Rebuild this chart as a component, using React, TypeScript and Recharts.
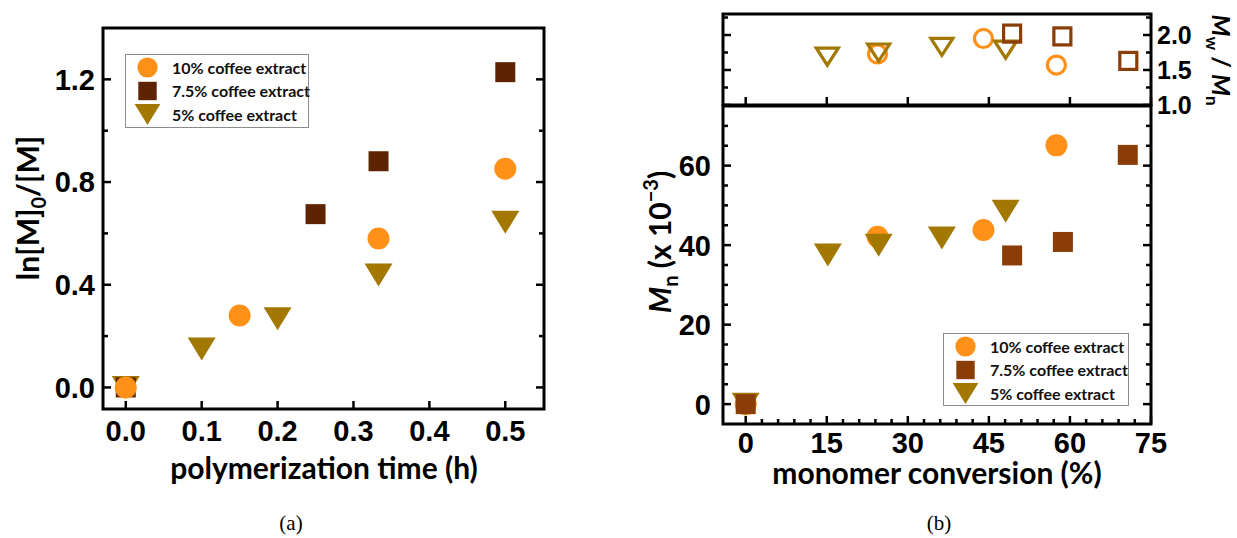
import React from 'react';
import { ScatterChart, Scatter, XAxis, YAxis, ReferenceArea } from 'recharts';

// (a) ln([M]0/[M]) vs polymerization time (h)
const timeA10 = [0, 0.15, 0.333, 0.5];
const lnA10 = [0, 0.28, 0.58, 0.852];
const timeA75 = [0, 0.25, 0.333, 0.5];
const lnA75 = [0, 0.675, 0.881, 1.228];
const timeA5 = [0, 0.1, 0.2, 0.333, 0.5];
const lnA5 = [0, 0.15, 0.268, 0.438, 0.643];

// (b) lower: Mn (x 10^-3) vs monomer conversion (%)
const convB10 = [0, 24.4, 44.0, 57.5];
const mnB10 = [0, 42.1, 43.8, 65.1];
const convB75 = [0, 49.3, 58.7, 70.7];
const mnB75 = [0, 37.4, 40.8, 62.7];
const convB5 = [0, 15.2, 24.6, 36.3, 48.1];
const mnB5 = [0, 37.5, 40.0, 41.8, 48.5];

// (b) upper: Mw/Mn vs monomer conversion (%)
const pdiConv10 = [24.4, 44.0, 57.5];
const pdi10 = [1.73, 1.95, 1.57];
const pdiConv75 = [49.3, 58.6, 70.8];
const pdi75 = [2.02, 1.98, 1.63];
const pdiConv5 = [15.1, 24.6, 36.3, 48.1];
const pdi5 = [1.69, 1.75, 1.83, 1.79];

// axis ticks
const majorsAX = [0, 0.1, 0.2, 0.3, 0.4, 0.5];
const majorsAY = [0, 0.4, 0.8, 1.2];
const ticksAY = [0, 0.2, 0.4, 0.6, 0.8, 1.0, 1.2];
const majorsBX = [0, 15, 30, 45, 60, 75];
const ticksBX = [0, 3, 6, 9, 12, 15, 18, 21, 24, 27, 30, 33, 36, 39, 42, 45, 48, 51, 54, 57, 60, 63, 66, 69, 72, 75];
const majorsBY = [0, 20, 40, 60];
const ticksBY = [0, 5, 10, 15, 20, 25, 30, 35, 40, 45, 50, 55, 60, 65, 70];
const majorsPdi = [1.0, 1.5, 2.0];
const ticksPdi = [1.0, 1.25, 1.5, 1.75, 2.0, 2.25];

const legendLabels = ['10% coffee extract', '7.5% coffee extract', '5% coffee extract'];

const domainAX: [number, number] = [-0.03, 0.551];
const domainAY: [number, number] = [-0.084, 1.4];
const domainBX: [number, number] = [-4.2, 75];
const domainBY: [number, number] = [-5, 75];
const domainPdi: [number, number] = [1.0, 2.3];

const ORANGE = '#FF9119';
const BROWN_DARK = '#5E2300';
const BROWN = '#8A3D05';
const OLIVE = '#A27800';

const TICK_FONT = '"Liberation Sans", Arial, sans-serif';
const TITLE_FONT = 'Lato, "Open Sans", sans-serif';

const pts = (xs: number[], ys: number[]) => xs.map((x, i) => ({ x, y: ys[i] }));

type Kind = 'circle' | 'square' | 'down';

const Marker = ({ cx, cy, kind, color, hollow = false, scale = 1 }: any) => {
  const fill = hollow ? 'none' : color;
  const stroke = hollow ? color : 'none';
  const sw = hollow ? 3.2 : 0;
  if (kind === 'circle') {
    const r = (hollow ? 9 : 11) * scale;
    return <circle cx={cx} cy={cy} r={r} fill={fill} stroke={stroke} strokeWidth={sw} />;
  }
  if (kind === 'square') {
    const h = (hollow ? 8.5 : 10) * scale;
    return <rect x={cx - h} y={cy - h} width={2 * h} height={2 * h} fill={fill} stroke={stroke} strokeWidth={sw} />;
  }
  const w = (hollow ? 11 : 14) * scale;
  const t = (hollow ? 8.5 : 11.5) * scale;
  return (
    <polygon
      points={`${cx - w},${cy - t} ${cx + w},${cy - t} ${cx},${cy + t}`}
      fill={fill}
      stroke={stroke}
      strokeWidth={sw}
    />
  );
};

const mk = (kind: Kind, color: string, hollow = false) => (p: any) =>
  <Marker cx={p.cx} cy={p.cy} kind={kind} color={color} hollow={hollow} />;

type Side = 'bottom' | 'top' | 'left' | 'right';

// inward ticks, drawn by hand so all four sides match the original frame
const makeTick = (
  side: Side,
  majors: number[],
  opts: { labels?: boolean; fmt?: (v: number) => string; fontSize?: number; gap?: number } = {}
) => (props: any) => {
  const { x, y, payload } = props;
  const v = payload.value;
  const major = majors.some((m) => Math.abs(m - v) < 1e-9);
  const len = major ? 8 : 5;
  const fs = opts.fontSize || 29;
  const gap = opts.gap || 8;
  const label = opts.labels && major ? (opts.fmt ? opts.fmt(v) : String(v)) : null;
  let line;
  let txt = null;
  if (side === 'bottom') {
    line = <line x1={x} y1={y} x2={x} y2={y - len} />;
    if (label) txt = <text x={x} y={y + gap} textAnchor="middle">{label}</text>;
  } else if (side === 'top') {
    line = <line x1={x} y1={y} x2={x} y2={y + len} />;
  } else if (side === 'left') {
    line = <line x1={x} y1={y} x2={x + len} y2={y} />;
    if (label) txt = <text x={x - gap} y={y + fs * 0.36} textAnchor="end">{label}</text>;
  } else {
    line = <line x1={x} y1={y} x2={x - len} y2={y} />;
    if (label) txt = <text x={x + gap} y={y + fs * 0.36} textAnchor="start">{label}</text>;
  }
  return (
    <g stroke="#000" strokeWidth={2.5} fontFamily={TICK_FONT} fontWeight={700} fontSize={fs}>
      {line}
      {txt && <g stroke="none" fill="#000">{txt}</g>}
    </g>
  );
};

// axes are 1px thick (0 would make recharts skip them); margins are reduced by 1 to compensate
const bare = { tickSize: 0, tickMargin: 0, tickLine: false, axisLine: false, interval: 0 as const, allowDataOverflow: true };

const PanelA = () => (
  <div style={{ position: 'absolute', left: 0, top: 0 }}>
    <ScatterChart width={600} height={538} margin={{ top: 27, right: 55, bottom: 128, left: 102 }}>
      <XAxis xAxisId="b" type="number" dataKey="x" domain={domainAX} ticks={majorsAX} height={1} {...bare}
        tick={makeTick('bottom', majorsAX, { labels: true, fmt: (v) => v.toFixed(1), gap: 32 })} />
      <XAxis xAxisId="t" orientation="top" type="number" domain={domainAX} ticks={majorsAX} height={1} {...bare}
        tick={makeTick('top', majorsAX)} />
      <YAxis yAxisId="l" type="number" dataKey="y" domain={domainAY} ticks={ticksAY} width={1} {...bare}
        tick={makeTick('left', majorsAY, { labels: true, fmt: (v) => v.toFixed(1), gap: 8 })} />
      <YAxis yAxisId="r" orientation="right" type="number" domain={domainAY} ticks={ticksAY} width={1} {...bare}
        tick={makeTick('right', majorsAY)} />
      <ReferenceArea xAxisId="b" yAxisId="l" x1={domainAX[0]} x2={domainAX[1]} y1={domainAY[0]} y2={domainAY[1]}
        fill="none" stroke="#000" strokeWidth={3} ifOverflow="visible" />
      <Scatter xAxisId="b" yAxisId="l" name={legendLabels[2]} data={pts(timeA5, lnA5)} shape={mk('down', OLIVE)} isAnimationActive={false} />
      <Scatter xAxisId="b" yAxisId="l" name={legendLabels[1]} data={pts(timeA75, lnA75)} shape={mk('square', BROWN_DARK)} isAnimationActive={false} />
      <Scatter xAxisId="b" yAxisId="l" name={legendLabels[0]} data={pts(timeA10, lnA10)} shape={mk('circle', ORANGE)} isAnimationActive={false} />
    </ScatterChart>
  </div>
);

const PanelBTop = () => (
  <div style={{ position: 'absolute', left: 600, top: 0 }}>
    <ScatterChart width={637} height={120} margin={{ top: 13, right: 85, bottom: 14, left: 122 }}>
      <XAxis xAxisId="b" type="number" dataKey="x" domain={domainBX} ticks={majorsBX} height={1} {...bare}
        tick={makeTick('bottom', majorsBX)} />
      <XAxis xAxisId="t" orientation="top" type="number" domain={domainBX} ticks={majorsBX} height={1} {...bare}
        tick={makeTick('top', majorsBX)} />
      <YAxis yAxisId="l" type="number" dataKey="y" domain={domainPdi} ticks={ticksPdi} width={1} {...bare}
        tick={makeTick('left', majorsPdi)} />
      <YAxis yAxisId="r" orientation="right" type="number" domain={domainPdi} ticks={ticksPdi} width={1} {...bare}
        tick={makeTick('right', majorsPdi, { labels: true, fmt: (v) => v.toFixed(1), fontSize: 25, gap: 6 })} />
      <ReferenceArea xAxisId="b" yAxisId="l" x1={domainBX[0]} x2={domainBX[1]} y1={domainPdi[0]} y2={domainPdi[1]}
        fill="none" stroke="#000" strokeWidth={3} ifOverflow="visible" />
      <Scatter xAxisId="b" yAxisId="l" name={legendLabels[0]} data={pts(pdiConv10, pdi10)} shape={mk('circle', ORANGE, true)} isAnimationActive={false} />
      <Scatter xAxisId="b" yAxisId="l" name={legendLabels[2]} data={pts(pdiConv5, pdi5)} shape={mk('down', OLIVE, true)} isAnimationActive={false} />
      <Scatter xAxisId="b" yAxisId="l" name={legendLabels[1]} data={pts(pdiConv75, pdi75)} shape={mk('square', BROWN, true)} isAnimationActive={false} />
    </ScatterChart>
  </div>
);

const PanelBBottom = () => (
  <div style={{ position: 'absolute', left: 600, top: 0 }}>
    <ScatterChart width={637} height={538} margin={{ top: 105, right: 85, bottom: 113, left: 122 }}>
      <XAxis xAxisId="b" type="number" dataKey="x" domain={domainBX} ticks={ticksBX} height={1} {...bare}
        tick={makeTick('bottom', majorsBX, { labels: true, gap: 29 })} />
      <XAxis xAxisId="t" orientation="top" type="number" domain={domainBX} ticks={ticksBX} height={1} {...bare}
        tick={makeTick('top', majorsBX)} />
      <YAxis yAxisId="l" type="number" dataKey="y" domain={domainBY} ticks={ticksBY} width={1} {...bare}
        tick={makeTick('left', majorsBY, { labels: true, gap: 12 })} />
      <YAxis yAxisId="r" orientation="right" type="number" domain={domainBY} ticks={ticksBY} width={1} {...bare}
        tick={makeTick('right', majorsBY)} />
      <ReferenceArea xAxisId="b" yAxisId="l" x1={domainBX[0]} x2={domainBX[1]} y1={domainBY[0]} y2={domainBY[1]}
        fill="none" stroke="#000" strokeWidth={3} ifOverflow="visible" />
      <Scatter xAxisId="b" yAxisId="l" name={legendLabels[0]} data={pts(convB10, mnB10)} shape={mk('circle', ORANGE)} isAnimationActive={false} />
      <Scatter xAxisId="b" yAxisId="l" name={legendLabels[2]} data={pts(convB5, mnB5)} shape={mk('down', OLIVE)} isAnimationActive={false} />
      <Scatter xAxisId="b" yAxisId="l" name={legendLabels[1]} data={pts(convB75, mnB75)} shape={mk('square', BROWN)} isAnimationActive={false} />
    </ScatterChart>
  </div>
);

const LegendBox = ({ x, y, w, h, colors }: { x: number; y: number; w: number; h: number; colors: string[] }) => {
  const kinds: Kind[] = ['circle', 'square', 'down'];
  const rows = [13.5, 37, 60.5];
  return (
    <g>
      <rect x={x + 0.5} y={y + 0.5} width={w} height={h} fill="#fff" stroke="#8c8c8c" strokeWidth={1} />
      {legendLabels.map((lab, i) => (
        <g key={lab}>
          <Marker cx={x + 22.5} cy={y + rows[i]} kind={kinds[i]} color={colors[i]} scale={0.92} />
          <text x={x + 47} y={y + rows[i] + 6} fontFamily={TITLE_FONT} fontWeight={700} fontSize={16} fill="#111">
            {lab}
          </text>
        </g>
      ))}
    </g>
  );
};

const Overlay = () => (
  <svg width={1237} height={538} style={{ position: 'absolute', left: 0, top: 0, pointerEvents: 'none' }}>
    <g fontFamily={TITLE_FONT} fontWeight={700} fill="#000">
      {/* (a) */}
      <text x={324} y={479} textAnchor="middle" fontSize={30}>polymerization time (h)</text>
      <text x={39} y={208} transform="rotate(-90 39 208)" textAnchor="middle" fontSize={30}>
        ln[M]<tspan dy={7} fontSize={20}>0</tspan><tspan dy={-7}>/[M]</tspan>
      </text>
      {/* (b) */}
      <text x={937} y={484} textAnchor="middle" fontSize={30}>monomer conversion (%)</text>
      <text x={671} y={242} transform="rotate(-90 671 242)" textAnchor="middle" fontSize={30}>
        <tspan fontStyle="italic">M</tspan><tspan dy={7} fontSize={20}>n</tspan>
        <tspan dy={-7}> (x 10</tspan><tspan dy={-13} fontSize={20}>{'\u22123'}</tspan><tspan dy={13}>)</tspan>
      </text>
      <text x={1212} y={60} transform="rotate(90 1212 60)" textAnchor="middle" fontSize={25}>
        <tspan fontStyle="italic">M</tspan><tspan dy={6} fontSize={17}>w</tspan>
        <tspan dy={-6}> / </tspan><tspan fontStyle="italic">M</tspan><tspan dy={6} fontSize={17}>n</tspan>
      </text>
    </g>
    <LegendBox x={125} y={54} w={183} h={73} colors={[ORANGE, BROWN_DARK, OLIVE]} />
    <LegendBox x={943} y={333} w={185} h={72} colors={[ORANGE, BROWN, OLIVE]} />
    <g fontFamily={'"Liberation Serif", "DejaVu Serif", serif'} fontSize={21} fill="#000" textAnchor="middle">
      <text x={291} y={530}>(a)</text>
      <text x={939} y={530}>(b)</text>
    </g>
  </svg>
);

export default function App() {
  return (
    <div style={{ position: 'absolute', left: 0, top: 0, width: 1237, height: 538, background: '#fff', overflow: 'hidden' }}>
      <PanelA />
      <PanelBTop />
      <PanelBBottom />
      <Overlay />
    </div>
  );
}
